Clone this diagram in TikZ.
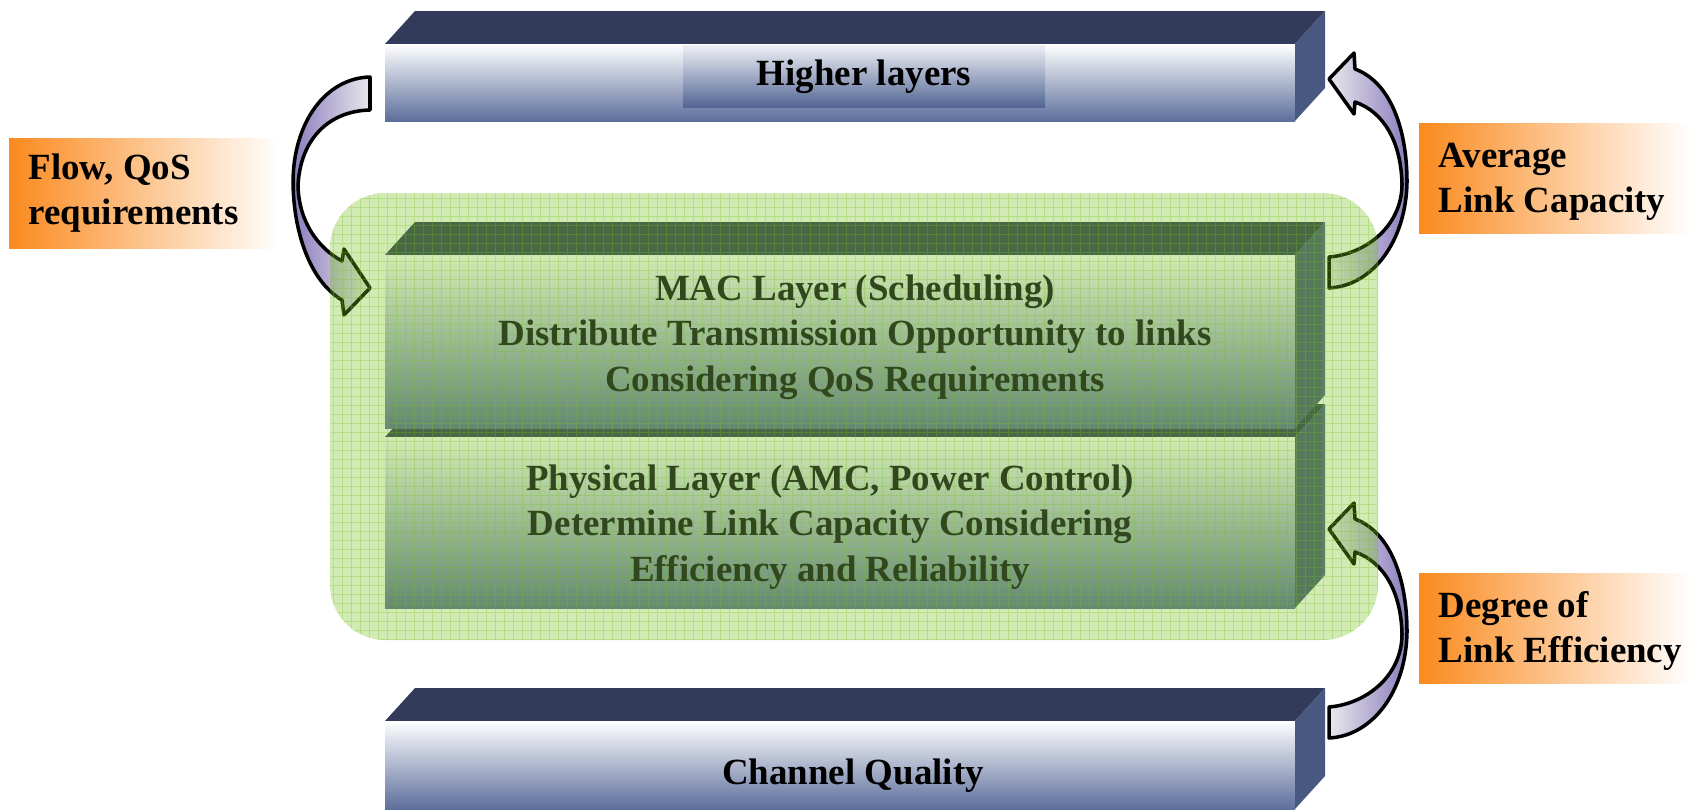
\documentclass[tikz,border=0pt]{standalone}
\usepackage{xcolor}
\usepackage{fontspec}
\setmainfont{Liberation Serif}
\usetikzlibrary{calc,positioning}

\definecolor{slabtop}{RGB}{50,60,90}
\definecolor{slabside}{RGB}{72,88,128}
\definecolor{slabfoot}{RGB}{92,110,155}
\definecolor{panelfoot}{RGB}{82,102,148}
\definecolor{labelorange}{RGB}{250,138,30}
\definecolor{arrowlilac}{RGB}{140,125,190}
\definecolor{arrowpale}{RGB}{232,232,236}
\definecolor{meshgreen}{RGB}{118,194,27}
\definecolor{layerink}{RGB}{48,72,28}

\begin{document}
\begin{tikzpicture}[x=0.01cm,y=-0.01cm,
    slabtext/.style={font=\fontsize{10.5}{13}\selectfont\bfseries,inner sep=0pt},
    layertext/.style={slabtext,align=center,text=layerink},
    tagtext/.style={font=\fontsize{10.5}{12.8}\selectfont\bfseries,align=left,inner sep=0pt,anchor=west},
    tagbox/.style={left color=labelorange,middle color=labelorange!42!white,right color=white},
    bentarrow/.style={draw=black,line width=1pt,line join=round}]
  \useasboundingbox (0,0) rectangle (1691,809);

  % the four slabs (PHY before MAC)
  \foreach \ya/\yb in {44/121,721/809,437/608,255/428} {
    \fill[slabtop] (385,\ya) -- (415,{\ya-33}) -- (1325,{\ya-33}) -- (1295,\ya) -- cycle;
    \shade[top color=white,bottom color=slabfoot] (385,\ya) rectangle (1295,\yb);
    \fill[slabside] (1295,\ya) -- (1325,{\ya-33}) -- (1325,{\yb-33}) -- (1295,\yb) -- cycle;
  }
  \shade[top color=white!90!slabfoot,bottom color=panelfoot] (683,45) rectangle (1045,107);

  % labels on the left and right
  \shade[tagbox] (9,138) rectangle (280,248);
  \shade[tagbox] (1419,123) rectangle (1691,233);
  \shade[tagbox] (1419,573) rectangle (1691,683);

  % curved block arrows
  \shadedraw[bentarrow,left color=arrowlilac,right color=arrowpale]
    (370,77) .. controls (326,78) and (293,122) .. (293,183)
    .. controls (294,240) and (314,284) .. (342,300)
    -- (344,315) -- (370,288) -- (344,249) -- (342,261)
    .. controls (318,248) and (299,222) .. (298,186)
    .. controls (300,140) and (328,111) .. (370,110) -- cycle;
  \foreach \dy in {0,450}
    \shadedraw[bentarrow,left color=arrowpale,right color=arrowlilac,shift={(0,\dy)}]
      (1329,79) -- (1354,53) -- (1355,69)
      .. controls (1390,82) and (1407,128) .. (1407,182)
      .. controls (1406,242) and (1372,286) .. (1329,288)
      -- (1329,257)
      .. controls (1366,254) and (1402,226) .. (1402,184)
      .. controls (1401,142) and (1384,112) .. (1355,102)
      -- (1354,114) -- cycle;

  % translucent grid over the two layers
  \fill[meshgreen,fill opacity=0.33,rounded corners=0.55cm] (330,193) rectangle (1378,640);
  \begin{scope}
    \clip[rounded corners=0.55cm] (330,193) rectangle (1378,640);
    \draw[meshgreen,opacity=0.3,line width=0.3pt,step=0.09cm] (330,193) grid (1378,640);
  \end{scope}

  \node[slabtext] (higher) at (864,77) {Higher layers};
  \node[slabtext] (channel) at (853,776) {Channel Quality};
  \node[layertext] (mac) at (855,337)
    {MAC Layer (Scheduling)\\Distribute Transmission Opportunity to links\\Considering QoS Requirements};
  \node[layertext] (phy) at (830,527)
    {Physical Layer (AMC, Power Control)\\Determine Link Capacity Considering\\Efficiency and Reliability};
  \node[tagtext] (flow) at (28,193) {Flow, QoS\\requirements};
  \node[tagtext] (avgcap) at (1438,182) {Average\\Link Capacity};
  \node[tagtext] (degree) at (1438,631) {Degree of\\Link Efficiency};
\end{tikzpicture}
\end{document}
